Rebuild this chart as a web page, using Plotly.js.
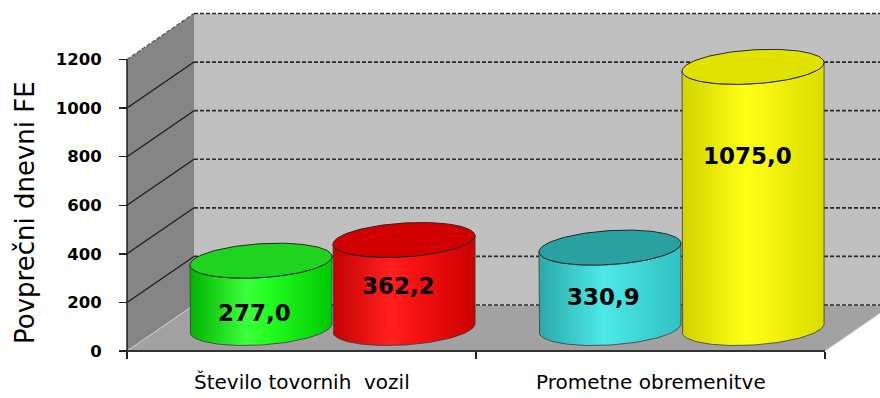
<!DOCTYPE html>
<html><head><meta charset="utf-8">
<script src="https://cdn.plot.ly/plotly-3.0.1.min.js"></script>
<style>html,body{margin:0;padding:0;background:#fff}#chart{width:880px;height:398px}</style>
</head><body><div id="chart"></div>
<script>
// ---- data ----
const categories = ['Število tovornih  vozil', 'Prometne obremenitve'];
const seriesLeft = [277.0, 330.9];
const seriesRight = [362.2, 1075.0];
const yTickVals = [0, 200, 400, 600, 800, 1000, 1200];
const yAxisTitle = 'Povprečni dnevni FE';

// ---- styling / geometry ----
const W = 880, H = 398, ml = 120, mr = 0, mt = 0, mb = 45;
const ppx = 349;                       // pixels per category unit
const ppy = (351 - 59.5) / 1200;       // pixels per value unit
const plotW = W - ml - mr, plotH = H - mt - mb;
const pxX = px => (px - ml) / plotW;          // pixel -> paper x
const pxY = py => (mt + plotH - py) / plotH;  // pixel -> paper y
const XMIN = -(127 - ml) / ppx, XMAX = XMIN + plotW / ppx;
const YMIN = -(plotH - 351) / ppy, YMAX = YMIN + plotH / ppy;
const DX = 67 / ppx, DY = 46 / ppy;    // full depth of the 3D box
const DXM = 31 / ppx, DYM = 23 / ppy;  // depth of the cylinder axis
const HALF = 71 / ppx;                 // cylinder radius (x units)
const OFF = 0.205;                     // cylinder offset from category centre
const RY = 17 / ppy;                   // ellipse half-height (value units)
const TILT = 0.06;                     // perspective tilt of ellipses
const labelFrac = [[0.22, 0.39], [0.48, 0.66]];
const styles = {
  left: [
    {body: [[0,'#00b400'],[0.4,'#3cff3c'],[0.55,'#22ff22'],[1,'#00c800']], top: '#1fd41f'},
    {body: [[0,'#2aa9a9'],[0.45,'#4de8e8'],[1,'#30c2c2']], top: '#2aa1a1'}
  ],
  right: [
    {body: [[0,'#c40000'],[0.4,'#ff2020'],[0.6,'#f51010'],[1,'#cc0000']], top: '#d20000'},
    {body: [[0,'#d2d200'],[0.45,'#ffff14'],[1,'#dcdc00']], top: '#e2e200'}
  ]
};

const shear = d => TILT * d * ppx / ppy;

function cylinder(cx, v, st) {
  const yb = DYM, yt = DYM + v, N = 72;
  const bx = [], by = [];
  bx.push(cx - HALF); by.push(yt + shear(-HALF));
  bx.push(cx - HALF); by.push(yb + shear(-HALF));
  for (let i = 0; i <= N; i++) {
    const t = Math.PI - Math.PI * i / N, d = HALF * Math.cos(t);
    bx.push(cx + d); by.push(yb - RY * Math.sin(t) + shear(d));
  }
  bx.push(cx + HALF); by.push(yt + shear(HALF));
  for (let i = 0; i <= N; i++) {
    const t = Math.PI * i / N, d = HALF * Math.cos(t);
    bx.push(cx + d); by.push(yt - RY * Math.sin(t) + shear(d));
  }
  const tx = [], ty = [];
  for (let i = 0; i <= 2 * N; i++) {
    const t = 2 * Math.PI * i / (2 * N), d = HALF * Math.cos(t);
    tx.push(cx + d); ty.push(yt + RY * Math.sin(t) + shear(d));
  }
  return [
    {type: 'scatter', mode: 'lines', x: bx, y: by, fill: 'toself',
     fillcolor: st.body[1][1],
     fillgradient: {type: 'horizontal', colorscale: st.body, start: cx - HALF, stop: cx + HALF},
     line: {color: '#3a3a3a', width: 0.8}, hoverinfo: 'skip', showlegend: false},
    {type: 'scatter', mode: 'lines', x: tx, y: ty, fill: 'toself', fillcolor: st.top,
     line: {color: '#262626', width: 1}, hoverinfo: 'skip', showlegend: false}
  ];
}

const traces = [];
const annotations = [];
const fmt = v => v.toFixed(1).replace('.', ',');
categories.forEach((c, i) => {
  const base = i + 0.5 + DXM;
  [[seriesLeft, -OFF, styles.left, 0], [seriesRight, OFF, styles.right, 1]].forEach(([s, off, st, k]) => {
    const cx = base + off;
    traces.push(...cylinder(cx, s[i], st[i]));
    annotations.push({x: cx, y: DYM + labelFrac[k][i] * s[i], xref: 'x', yref: 'y',
      text: fmt(s[i]), showarrow: false, xshift: -6,
      font: {family: 'DejaVu Sans', size: 23, weight: 'bold', color: '#000'}});
  });
  annotations.push({x: i + 0.5, y: pxY(382), xref: 'x', yref: 'paper', text: c,
    showarrow: false, xanchor: 'center', yanchor: 'middle',
    font: {family: 'DejaVu Sans', size: 20, color: '#000'}});
});
annotations.push({x: pxX(25), y: pxY(213), xref: 'paper', yref: 'paper', text: yAxisTitle,
  textangle: -90, showarrow: false, xanchor: 'center', yanchor: 'middle',
  font: {family: 'DejaVu Sans', size: 26, color: '#000'}});

const ymaxTick = yTickVals[yTickVals.length - 1];
const nCat = categories.length;
const shapes = [];
// side wall
shapes.push({type: 'path', layer: 'below', xref: 'x', yref: 'y',
  path: `M0,0 L${DX},${DY} L${DX},${ymaxTick + DY} L0,${ymaxTick} Z`,
  fillcolor: '#858585', line: {width: 0}});
// back wall
shapes.push({type: 'rect', layer: 'below', xref: 'x', yref: 'y',
  x0: DX, x1: XMAX + 0.1, y0: DY, y1: ymaxTick + DY, fillcolor: '#c0c0c0', line: {width: 0}});
// floor
shapes.push({type: 'path', layer: 'below', xref: 'x', yref: 'y',
  path: `M0,0 L${DX},${DY} L${nCat + DX},${DY} L${nCat},0 Z`,
  fillcolor: '#a2a2a2', line: {color: '#d0d0d0', width: 1}});
// grid lines
yTickVals.forEach(v => {
  shapes.push({type: 'line', layer: 'below', xref: 'x', yref: 'y',
    x0: DX, x1: XMAX + 0.1, y0: v + DY, y1: v + DY,
    line: {color: '#2a2a2a', width: 1.7, dash: '4px,2px'}});
  if (v > 0) shapes.push({type: 'line', layer: 'below', xref: 'x', yref: 'y',
    x0: 0, x1: DX, y0: v, y1: v + DY,
    line: {color: v === ymaxTick ? '#5a5a5a' : '#1e1e1e', width: 1.3,
           dash: v === ymaxTick ? '4px,2px' : 'solid'}});
});
// front axis lines
shapes.push({type: 'line', layer: 'below', xref: 'x', yref: 'y', x0: 0, x1: 0, y0: 0, y1: ymaxTick,
  line: {color: '#1e1e1e', width: 1.5}});
shapes.push({type: 'line', layer: 'below', xref: 'x', yref: 'y', x0: 0, x1: nCat, y0: 0, y1: 0,
  line: {color: '#333', width: 2}});

const layout = {
  width: W, height: H, margin: {l: ml, r: mr, t: mt, b: mb, pad: 0},
  paper_bgcolor: '#fff', plot_bgcolor: '#fff', showlegend: false,
  xaxis: {range: [XMIN, XMAX], showgrid: false, zeroline: false, showline: false,
    tickvals: [0, 1, 2], ticktext: ['', '', ''], ticks: 'outside', ticklen: 7,
    tickcolor: '#222', tickwidth: 1.5, anchor: 'free', position: pxY(351), fixedrange: true},
  yaxis: {range: [YMIN, YMAX], showgrid: false, zeroline: false, showline: false,
    tickvals: yTickVals, ticks: 'outside', ticklen: 8, tickcolor: '#222', tickwidth: 1.5,
    ticklabelstandoff: 14, anchor: 'free', position: pxX(127),
    tickfont: {family: 'DejaVu Sans', size: 16.5, weight: 'bold', color: '#000'}, fixedrange: true},
  shapes, annotations
};
Plotly.newPlot('chart', traces, layout, {displayModeBar: false, staticPlot: true});
</script></body></html>
